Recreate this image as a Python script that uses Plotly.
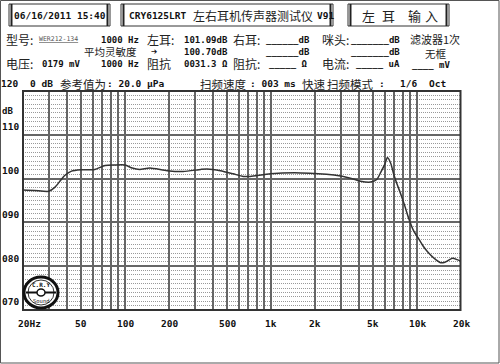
import math
import plotly.graph_objects as go

# ---- data ----
freq_hz = [20, 24, 30, 33, 36, 38.6, 43, 50, 62, 73, 85, 100, 112, 126, 148, 194, 250, 330, 365,
           450, 550, 645, 720, 990, 1600, 2700, 3500, 4100, 4800, 5300, 5650, 6000, 6270, 6600,
           6920, 7300, 7730, 8200, 8770, 9500, 10070, 11000, 11800, 13000, 14500, 15500, 16500,
           17500, 18800, 20000]
spl_db = [97.4, 97.3, 97.1, 98.0, 99.5, 100.7, 101.7, 102.0, 102.1, 103.0, 103.1, 103.1, 102.4,
          102.1, 102.4, 101.8, 101.6, 102.1, 102.2, 101.8, 101.1, 100.5, 100.5, 101.1, 101.3,
          100.8, 100.1, 99.4, 99.2, 99.8, 101.5, 103.2, 104.8, 103.5, 101.0, 98.7, 96.5, 94.0,
          90.9, 88.0, 86.7, 84.6, 83.3, 81.9, 80.8, 80.9, 81.4, 81.8, 81.5, 81.1]

x_tick_vals = [50, 100, 200, 500, 1000, 2000, 5000, 10000, 20000]
x_tick_text = ["50", "100", "200", "500", "1k", "2k", "5k", "10k", "20k"]
y_tick_vals = [120, 110, 100, 90, 80, 70]
y_tick_text = ["120", "110", "100", "090", "080", "070"]

W, H = 500, 364
ML, MR, MT, MB = 23, 39, 91, 54
PW, PH = W - ML - MR, H - MT - MB

def PX(px):
    return (px - ML) / PW

def PY(py):
    return (H - MB - py) / PH

MONO = "DejaVu Sans Mono, Noto Sans CJK SC"
CJK = "Noto Sans CJK SC, DejaVu Sans"

annotations = []
shapes = []

def txt(px, py, s, size=9.5, fam=MONO, bold=True, color="#111", anchor="left"):
    annotations.append(dict(
        x=PX(px), y=PY(py), xref="paper", yref="paper", text=("<b>%s</b>" % s) if bold else s,
        showarrow=False, xanchor=anchor, yanchor="middle",
        font=dict(family=fam, size=size, color=color), borderpad=0))

def cjk(px, py, s, size=11.5, anchor="left"):
    txt(px, py, s, size=size, fam=CJK, bold=False, color="#222", anchor=anchor)

def rect(x0, y0, x1, y1, color="#222", width=1, fill=None):
    shapes.append(dict(type="rect", xref="paper", yref="paper", x0=PX(x0), x1=PX(x1),
                       y0=PY(y1), y1=PY(y0), line=dict(color=color, width=width),
                       fillcolor=fill if fill else "rgba(0,0,0,0)", layer="above"))

def vline(x, y0, y1, color="#222", width=2):
    shapes.append(dict(type="line", xref="paper", yref="paper", x0=PX(x), x1=PX(x),
                       y0=PY(y1), y1=PY(y0), line=dict(color=color, width=width)))

# outer frame of the screen
rect(0.5, 0.5, 499, 363, color="#555", width=1)

# header boxes
for (a, b) in [(9, 110), (121, 333), (348, 449)]:
    rect(a, 4, b, 26, color="#333", width=1)
    vline(a + 2.5, 4, 26, width=2)
    vline(b - 2.5, 4, 26, width=2)

txt(13, 16, "06/16/2011 15:40", size=9.5)
txt(128, 16, "CRY6125LRT", size=9.5)
cjk(192, 16, "左右耳机传声器测试仪", size=12)
txt(316, 16, "V91", size=9.5)
for cx, ch in zip([368, 388, 414, 431], ["左", "耳", "输", "入"]):
    cjk(cx, 16, ch, size=13, anchor="center")

# row 1
cjk(5, 40, "型号:", size=12)
txt(38, 39, "<u>WER212-134</u>", size=6.5, bold=False, color="#555")
txt(100, 40, "1000 Hz", size=9)
cjk(146, 40, "左耳:", size=12)
txt(183, 40, "101.09dB", size=9)
cjk(232, 40, "右耳:", size=12)
txt(265, 40, "______dB", size=9)
cjk(321, 40, "咪头:", size=12)
txt(350, 40, "_______dB", size=9)
cjk(409, 39, "滤波器1次", size=11)
# row 2
cjk(83, 52, "平均灵敏度", size=10.5)
txt(150, 52, "➔", size=7.5, fam="DejaVu Sans")
txt(183, 52, "100.70dB", size=9)
txt(265, 52, "______dB", size=9)
txt(350, 52, "_______dB", size=9)
cjk(424, 53.5, "无框", size=10.5)
# row 3
cjk(5, 64, "电压:", size=12)
txt(41, 64, "0179 mV", size=9)
txt(100, 64, "1000 Hz", size=9)
cjk(146, 64, "阻抗", size=12)
txt(183, 64, "0031.3 Ω", size=9)
cjk(232, 64, "阻抗:", size=12)
txt(268, 64, "_____ Ω", size=9)
cjk(321, 64, "电流:", size=12)
txt(355, 64, "_____ uA", size=9)
txt(411, 65, "____ mV", size=9)
# row 4
txt(29, 84, "0 dB")
cjk(59, 84, "参考值为", size=11.5)
txt(106, 84, ": 20.0 μPa")
cjk(199, 84, "扫频速度", size=11.5)
txt(249, 84, ": 003 ms")
cjk(301, 84, "快速", size=11.5)
cjk(326, 84, "扫频模式", size=11.5)
txt(378, 84, ":")
txt(399, 84, "1/6")
txt(428, 84, "Oct")

# y labels (placed above gridlines like the instrument)
y_label_pos = {120: 84, 110: 126, 100: 170, 90: 214, 80: 258, 70: 301}
for v, t in zip(y_tick_vals, y_tick_text):
    txt(1 if v != 120 else 0, y_label_pos[v], t)
txt(1, 111, "dB", size=9)

# x labels
txt(29, 323, "20Hz", anchor="center")
for v, t in zip(x_tick_vals, x_tick_text):
    annotations.append(dict(x=math.log10(v), y=PY(323), xref="x", yref="paper", text="<b>%s</b>" % t,
                            showarrow=False, xanchor="center", yanchor="middle",
                            font=dict(family=MONO, size=9.5, color="#111")))

# plot frame
rect(23, 91, 460.5, 310, color="#333", width=2)

# logo
shapes.append(dict(type="circle", xref="paper", yref="paper", x0=PX(24), x1=PX(58), y0=PY(308), y1=PY(277),
                   line=dict(color="#111", width=3), fillcolor="white", layer="above"))
shapes.append(dict(type="circle", xref="paper", yref="paper", x0=PX(28), x1=PX(54), y0=PY(305), y1=PY(280),
                   line=dict(color="#333", width=1), layer="above"))
shapes.append(dict(type="line", xref="paper", yref="paper", x0=PX(26), x1=PX(56), y0=PY(292.5), y1=PY(292.5),
                   line=dict(color="#111", width=2), layer="above"))
shapes.append(dict(type="circle", xref="paper", yref="paper", x0=PX(37), x1=PX(45), y0=PY(296), y1=PY(289),
                   line=dict(color="#111", width=1.5), fillcolor="white", layer="above"))
txt(41, 284, "C.R.Y", size=6, anchor="center")
txt(41, 301, "Sound", size=5.5, anchor="center", bold=False)

fig = go.Figure()
fig.add_trace(go.Scatter(x=freq_hz, y=spl_db, mode="lines",
                         line=dict(color="#333", width=1.5, shape="spline", smoothing=0.6),
                         hoverinfo="skip", showlegend=False))

fig.update_layout(
    width=W, height=H, margin=dict(l=ML, r=MR, t=MT, b=MB),
    paper_bgcolor="white", plot_bgcolor="white", showlegend=False,
    annotations=annotations, shapes=shapes,
    xaxis=dict(type="log", range=[math.log10(20), math.log10(20000)], dtick="D1",
               showticklabels=False, ticks="", showgrid=True, gridcolor="#666", gridwidth=1.5,
               zeroline=False, showline=False),
    yaxis=dict(range=[70, 120], dtick=10, showticklabels=False, ticks="", showgrid=True,
               gridcolor="#666", gridwidth=1.5, zeroline=False, showline=False,
               minor=dict(dtick=1, showgrid=True, gridcolor="#999", gridwidth=1, griddash="1px,1px")),
)

fig.write_html("out.html")
